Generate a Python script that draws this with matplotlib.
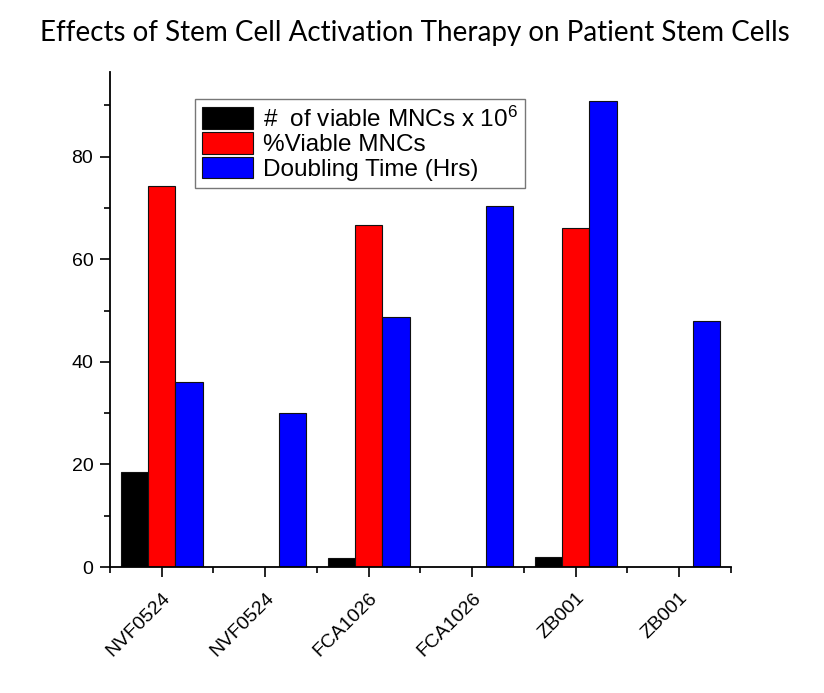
import matplotlib
matplotlib.use('Agg')
import matplotlib.pyplot as plt
import numpy as np
from matplotlib.ticker import MultipleLocator, FixedLocator

# Data
samples = ['NVF0524', 'NVF0524', 'FCA1026', 'FCA1026', 'ZB001', 'ZB001']
viable_count = [18.5, 0, 1.7, 0, 2.0, 0]          # # of viable MNCs x 10^6
viable_pct = [74.3, 0, 66.7, 0, 66.1, 0]          # %Viable MNCs
doubling_time = [36.1, 30.1, 48.7, 70.4, 90.9, 47.9]  # Doubling Time (Hrs)

labels = [r'#  of viable MNCs x 10$^6$', '%Viable MNCs', 'Doubling Time (Hrs)']
colors = ['#000000', '#ff0000', '#0000ff']

plt.rcParams['font.family'] = 'Liberation Sans'
plt.rcParams['mathtext.fontset'] = 'custom'
plt.rcParams['mathtext.rm'] = 'Liberation Sans'
plt.rcParams['mathtext.it'] = 'Liberation Sans'

fig = plt.figure(figsize=(8.24, 6.93), dpi=100)
ax = fig.add_axes([0.1335, 0.1818, 0.7535, 0.7142])

x = np.arange(len(samples))
w = 0.265
series = [viable_count, viable_pct, doubling_time]
for i, (vals, col, lab) in enumerate(zip(series, colors, labels)):
    ax.bar(x + (i - 1) * w, vals, width=w, color=col, edgecolor='#111111',
           linewidth=0.8, label=lab)

ax.set_xlim(-0.5, 5.5)
ax.set_ylim(0, 96.5)

ax.spines['top'].set_visible(False)
ax.spines['right'].set_visible(False)
for s in ['left', 'bottom']:
    ax.spines[s].set_linewidth(1.3)

ax.set_xticks(x)
ax.set_xticklabels(samples, rotation=45, ha='right', rotation_mode='anchor')
ax.xaxis.set_minor_locator(FixedLocator(np.arange(-0.5, 5.51, 1.0)))
ax.yaxis.set_major_locator(MultipleLocator(20))
ax.yaxis.set_minor_locator(MultipleLocator(10))
ax.tick_params(axis='both', which='major', direction='out', length=7, width=1.2,
               labelsize=14)
ax.tick_params(axis='both', which='minor', direction='out', length=4, width=1.2)
ax.tick_params(axis='x', which='major', pad=9)
ax.tick_params(axis='y', which='major', pad=5)

fig.text(0.503, 0.952, 'Effects of Stem Cell Activation Therapy on Patient Stem Cells',
         ha='center', va='center', fontsize=20, family='Lato')

leg = ax.legend(loc='upper left', bbox_to_anchor=(195 / 824, 1 - 99 / 693),
                bbox_transform=fig.transFigure, fontsize=17.5, frameon=True,
                fancybox=False, handlelength=2.1, handleheight=1.0,
                labelspacing=0.02, handletextpad=0.4, borderpad=0.3,
                borderaxespad=0)
leg.get_frame().set_edgecolor('#555555')
leg.get_frame().set_linewidth(1.0)

fig.savefig('out.png', dpi=100)
